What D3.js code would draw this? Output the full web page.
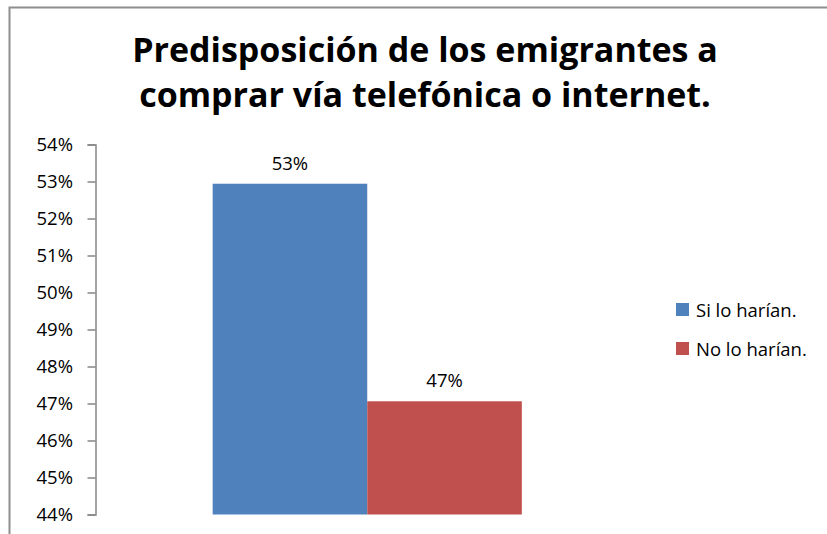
<!DOCTYPE html>
<html>
<head>
<meta charset="utf-8">
<script src="https://cdn.jsdelivr.net/npm/d3@7/dist/d3.min.js"></script>
<style>
  html, body { margin: 0; padding: 0; background: #fff; }
  svg { display: block; }
</style>
</head>
<body>
<svg id="chart" width="827" height="534"></svg>
<script>
// Survey result: share of emigrants who would buy by phone or online
const categories = ["Predisposición"];
const seriesNames = ["Si lo harían.", "No lo harían."];
const seriesValues = [0.5294, 0.4706];
const seriesColors = ["#4F81BD", "#C0504D"];
const yTicks = [0.44, 0.45, 0.46, 0.47, 0.48, 0.49, 0.50, 0.51, 0.52, 0.53, 0.54];
const titleLines = ["Predisposición de los emigrantes a", "comprar vía telefónica o internet."];

const font = "'Open Sans', sans-serif";
const labelSize = 18.5;
const svg = d3.select("#chart");
const W = 827, H = 534;

svg.append("rect").attr("width", W).attr("height", H).attr("fill", "#fff");

// Chart frame (only top and left edges fall inside the view)
svg.append("rect")
  .attr("x", 9.5).attr("y", 7.5)
  .attr("width", 900).attr("height", 600)
  .attr("fill", "none")
  .attr("stroke", "#8e8e8e")
  .attr("stroke-width", 2);

// Title
const title = svg.append("text")
  .attr("text-anchor", "middle")
  .attr("font-family", font)
  .attr("font-weight", "bold")
  .attr("font-size", 34)
  .attr("fill", "#000");
titleLines.forEach((t, i) => {
  title.append("tspan").attr("x", 425).attr("y", 62 + i * 45).text(t);
});

// Plot area
const plot = { left: 95.5, right: 639, top: 144.5, bottom: 514.5 };

const y = d3.scaleLinear()
  .domain([0.44, 0.54])
  .range([plot.bottom, plot.top]);

const x0 = d3.scaleBand()
  .domain(categories)
  .range([plot.left, plot.right])
  .paddingInner(0)
  .paddingOuter(0.379);

const x1 = d3.scaleBand()
  .domain(seriesNames)
  .range([0, x0.bandwidth()])
  .padding(0);

const pct = d3.format(".0%");

// Bars
const data = seriesNames.map((s, i) => ({ cat: categories[0], name: s, value: seriesValues[i], color: seriesColors[i] }));

const g = svg.append("g");
g.selectAll("rect.bar")
  .data(data)
  .join("rect")
  .attr("class", "bar")
  .attr("x", d => x0(d.cat) + x1(d.name))
  .attr("y", d => y(d.value))
  .attr("width", x1.bandwidth())
  .attr("height", d => y(0.44) - y(d.value))
  .attr("fill", d => d.color);

// Value labels
g.selectAll("text.val")
  .data(data)
  .join("text")
  .attr("class", "val")
  .attr("x", d => x0(d.cat) + x1(d.name) + x1.bandwidth() / 2)
  .attr("y", d => y(d.value) - 14)
  .attr("text-anchor", "middle")
  .attr("font-family", font)
  .attr("font-size", labelSize)
  .attr("fill", "#000")
  .text(d => pct(d.value));

// Y axis
const yAxis = d3.axisLeft(y)
  .tickValues(yTicks)
  .tickFormat(pct)
  .tickSize(8)
  .tickPadding(14.5);

const ax = svg.append("g")
  .attr("transform", `translate(${plot.left},0)`)
  .call(yAxis);
ax.select(".domain").attr("stroke", "#868686").attr("stroke-width", 1.5);
ax.selectAll(".tick line").attr("stroke", "#868686").attr("stroke-width", 1.5);
ax.selectAll(".tick text")
  .attr("font-family", font)
  .attr("font-size", labelSize)
  .attr("fill", "#000");

// Legend
const legend = svg.append("g").attr("transform", "translate(676,303)");
seriesNames.forEach((s, i) => {
  const item = legend.append("g").attr("transform", `translate(0,${i * 39})`);
  item.append("rect").attr("width", 13).attr("height", 13).attr("fill", seriesColors[i]);
  item.append("text")
    .attr("x", 20).attr("y", 14)
    .attr("font-family", font)
    .attr("font-size", labelSize)
    .attr("fill", "#000")
    .text(s);
});
</script>
</body>
</html>
